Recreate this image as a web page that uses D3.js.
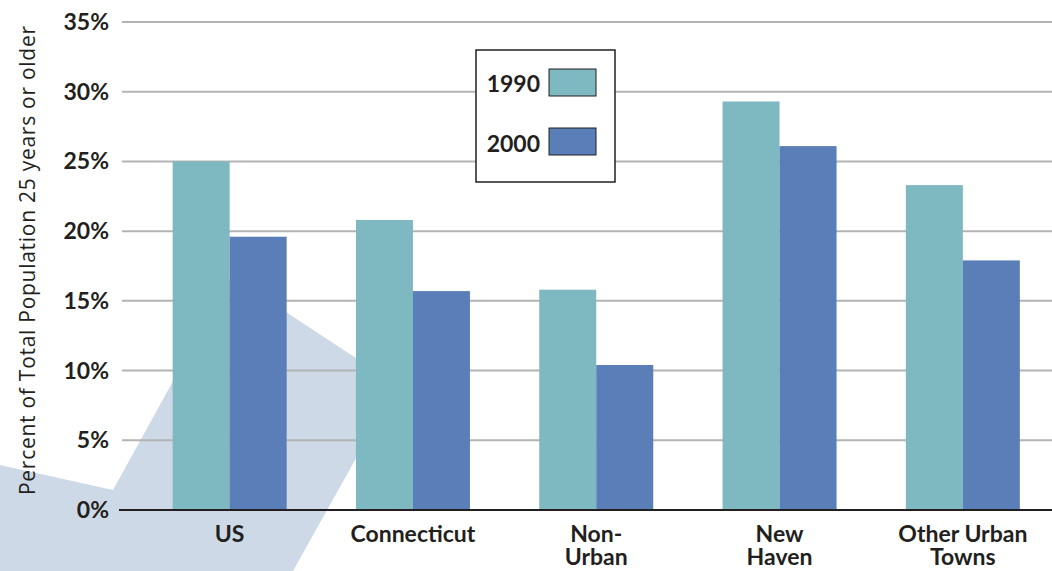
<!DOCTYPE html>
<html>
<head>
<meta charset="utf-8">
<script src="https://cdn.jsdelivr.net/npm/d3@7"></script>
<style>
  body { margin: 0; background: #fff; }
  svg { display: block; }
</style>
</head>
<body>
<svg id="chart" width="1052" height="571"></svg>
<script>
// DATA
const categories = [["US"], ["Connecticut"], ["Non-", "Urban"], ["New", "Haven"], ["Other Urban", "Towns"]];
const years = ["1990", "2000"];
const values1990 = [25.0, 20.8, 15.8, 29.3, 23.3];
const values2000 = [19.6, 15.7, 10.4, 26.1, 17.9];
const yTicks = [0, 5, 10, 15, 20, 25, 30, 35];
const yTitle = "Percent of Total Population 25 years or older";

const colors = { "1990": "#7eb9c1", "2000": "#5a7fb8" };
const svg = d3.select("#chart");
const W = 1052, H = 571;

// scales
const keys = categories.map(c => c.join(" "));
const x = d3.scaleBand().domain(keys).range([138, 1054.5]).paddingInner(0.378).paddingOuter(0.189);
const xs = d3.scaleBand().domain(years).range([0, x.bandwidth()]);
const y = d3.scaleLinear().domain([0, 35]).range([510, 22]);

// background watermark shape
svg.append("path")
  .attr("d", "M0,465 L113,490 L231,276 L397,385 L293,571 L0,571 Z")
  .attr("fill", "#cdd9e6");

// gridlines
svg.append("g").selectAll("line")
  .data(yTicks.filter(d => d > 0))
  .join("line")
  .attr("x1", 122).attr("x2", W)
  .attr("y1", d => y(d)).attr("y2", d => y(d))
  .attr("stroke", "#b3b3b3").attr("stroke-width", 2);

// tick labels
svg.append("g").selectAll("text")
  .data(yTicks)
  .join("text")
  .attr("x", 109)
  .attr("y", d => y(d) + 8)
  .attr("text-anchor", "end")
  .attr("font-family", "Lato, sans-serif")
  .attr("font-weight", "bold")
  .attr("font-size", "23px")
  .attr("fill", "#231f20")
  .text(d => d + "%");

// bars
const rows = keys.map((k, i) => ({ key: k, "1990": values1990[i], "2000": values2000[i] }));
svg.append("g").selectAll("g")
  .data(rows)
  .join("g")
  .attr("transform", d => `translate(${x(d.key)},0)`)
  .selectAll("rect")
  .data(d => years.map(yr => ({ yr, v: d[yr] })))
  .join("rect")
  .attr("x", d => xs(d.yr))
  .attr("width", xs.bandwidth())
  .attr("y", d => y(d.v))
  .attr("height", d => y(0) - y(d.v))
  .attr("fill", d => colors[d.yr]);

// baseline
svg.append("line")
  .attr("x1", 119).attr("x2", W)
  .attr("y1", y(0)).attr("y2", y(0))
  .attr("stroke", "#231f20").attr("stroke-width", 2);

// category labels (one text per line)
categories.forEach((lines, i) => {
  lines.forEach((ln, j) => {
    svg.append("text")
      .attr("x", x(keys[i]) + x.bandwidth() / 2)
      .attr("y", 542 + j * 23)
      .attr("text-anchor", "middle")
      .attr("font-family", "Lato, sans-serif")
      .attr("font-weight", "bold")
      .attr("font-size", "23px")
      .attr("fill", "#231f20")
      .text(ln);
  });
});

// y axis title
svg.append("text")
  .attr("transform", "translate(35,260.5) rotate(-90)")
  .attr("text-anchor", "middle")
  .attr("font-family", "'Open Sans', sans-serif")
  .attr("font-size", "21px")
  .attr("textLength", 469)
  .attr("lengthAdjust", "spacing")
  .attr("fill", "#231f20")
  .text(yTitle);

// legend
const lg = svg.append("g");
lg.append("rect")
  .attr("x", 476).attr("y", 50).attr("width", 139).attr("height", 132)
  .attr("fill", "#fff").attr("stroke", "#231f20").attr("stroke-width", 1.5);
years.forEach((yr, i) => {
  lg.append("text")
    .attr("x", 540).attr("y", 92 + i * 60)
    .attr("text-anchor", "end")
    .attr("font-family", "Lato, sans-serif")
    .attr("font-weight", "bold")
    .attr("font-size", "23px")
    .attr("fill", "#231f20")
    .text(yr);
  lg.append("rect")
    .attr("x", 549).attr("y", 69 + i * 59).attr("width", 47).attr("height", 27)
    .attr("fill", colors[yr]).attr("stroke", "#231f20").attr("stroke-width", 1);
});
</script>
</body>
</html>
